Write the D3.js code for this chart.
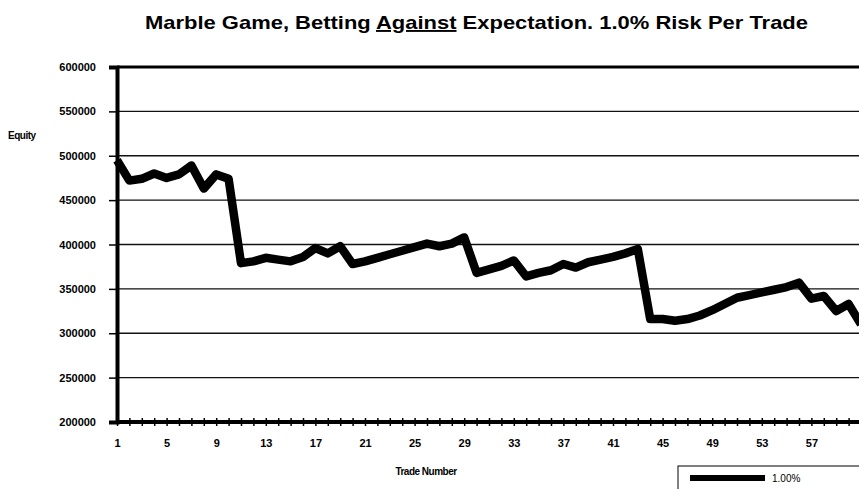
<!DOCTYPE html>
<html>
<head>
<meta charset="utf-8">
<script src="https://cdn.jsdelivr.net/npm/d3@7"></script>
<style>
  body { margin: 0; background: #fff; overflow: hidden; }
  text { font-family: "Liberation Sans", Arial, sans-serif; fill: #000; }
</style>
</head>
<body>
<div id="chart"></div>
<script>
// trade numbers 1..61
const trades = d3.range(1, 62);
// equity per trade
const equity = [
  495000, 472000, 474000, 480000, 475000, 479000, 489000, 463000, 479000, 474000,
  379000, 381000, 385000, 383000, 381000, 386000, 396000, 390000, 398000, 378000,
  381000, 385000, 389000, 393000, 397000, 401000, 398000, 401000, 408000, 368000,
  372000, 376000, 382000, 364000, 368000, 371000, 378000, 374000, 380000, 383000,
  386000, 390000, 395000, 316000, 316000, 314000, 316000, 320000, 326000, 333000,
  340000, 343000, 346000, 349000, 352000, 357000, 339000, 342000, 325000, 333000,
  310000
];
const yTicks = [200000, 250000, 300000, 350000, 400000, 450000, 500000, 550000, 600000];
const xTickLabels = [1, 5, 9, 13, 17, 21, 25, 29, 33, 37, 41, 45, 49, 53, 57];
const seriesName = "1.00%";

const W = 859, H = 489;
const svg = d3.select("#chart").append("svg")
  .attr("width", W).attr("height", H);

// scales
const x = d3.scaleLinear().domain([1, 61]).range([117, 861]);
const y = d3.scaleLinear().domain([200000, 600000]).range([422, 67]);

// title, with "Against" underlined (squeezed like the original)
const title = svg.append("text")
  .attr("x", 145).attr("y", 29)
  .attr("font-size", 19).attr("font-weight", "bold")
  .attr("textLength", 663).attr("lengthAdjust", "spacingAndGlyphs");
title.append("tspan").text("Marble Game, Betting ");
title.append("tspan").attr("text-decoration", "underline").text("Against");
title.append("tspan").text(" Expectation.  1.0% Risk Per Trade");

// horizontal gridlines
svg.append("g").selectAll("line").data(yTicks.slice(1, -1)).join("line")
  .attr("x1", x.range()[0]).attr("x2", W)
  .attr("y1", d => y(d)).attr("y2", d => y(d))
  .attr("stroke", "#111").attr("stroke-width", 1.3);

// top border
svg.append("line")
  .attr("x1", x.range()[0]).attr("x2", W)
  .attr("y1", y(600000)).attr("y2", y(600000))
  .attr("stroke", "#000").attr("stroke-width", 3);

// y axis
const yAxis = svg.append("g")
  .attr("transform", `translate(${x.range()[0]},0)`)
  .call(d3.axisLeft(y).tickValues(yTicks).tickSize(8).tickPadding(13).tickFormat(d3.format("d")));
yAxis.select(".domain").attr("stroke-width", 4);
yAxis.selectAll(".tick line").attr("stroke-width", 1.5);
yAxis.selectAll("text")
  .attr("font-size", 11).attr("font-weight", "bold")
  .style("font-family", "'Liberation Sans', Arial, sans-serif");

// x axis: a tick on every trade, labels every 4
const xAxis = svg.append("g")
  .attr("transform", `translate(0,${y(200000)})`)
  .call(d3.axisBottom(x).tickValues(trades.slice(0, 60)).tickSizeInner(4).tickSizeOuter(0)
    .tickPadding(13).tickFormat(d => xTickLabels.includes(d) ? d : ""));
xAxis.select(".domain").attr("stroke-width", 4).attr("d", `M${x.range()[0]},0H${W}`);
xAxis.selectAll(".tick line").attr("y1", -4).attr("stroke-width", 1.5);
xAxis.selectAll("text")
  .attr("font-size", 11).attr("font-weight", "bold")
  .style("font-family", "'Liberation Sans', Arial, sans-serif");

// axis titles
svg.append("text").attr("x", 8).attr("y", 139)
  .attr("font-size", 10).attr("font-weight", "bold").attr("letter-spacing", -0.5)
  .text("Equity");
svg.append("text").attr("x", 426).attr("y", 475).attr("text-anchor", "middle")
  .attr("font-size", 10).attr("font-weight", "bold").attr("letter-spacing", -0.5)
  .text("Trade Number");

// equity line
const line = d3.line()
  .x((d, i) => x(trades[i]))
  .y(d => y(d));
svg.append("path")
  .datum(equity)
  .attr("fill", "none")
  .attr("stroke", "#000")
  .attr("stroke-width", 8.5)
  .attr("stroke-linejoin", "round")
  .attr("d", line);

// legend box
svg.append("rect")
  .attr("x", 678).attr("y", 466).attr("width", 200).attr("height", 40)
  .attr("fill", "#fff").attr("stroke", "#000").attr("stroke-width", 1);
svg.append("line")
  .attr("x1", 690).attr("x2", 765).attr("y1", 478).attr("y2", 478)
  .attr("stroke", "#000").attr("stroke-width", 6);
svg.append("text").attr("x", 772).attr("y", 482)
  .attr("font-size", 10).text(seriesName);
</script>
</body>
</html>
